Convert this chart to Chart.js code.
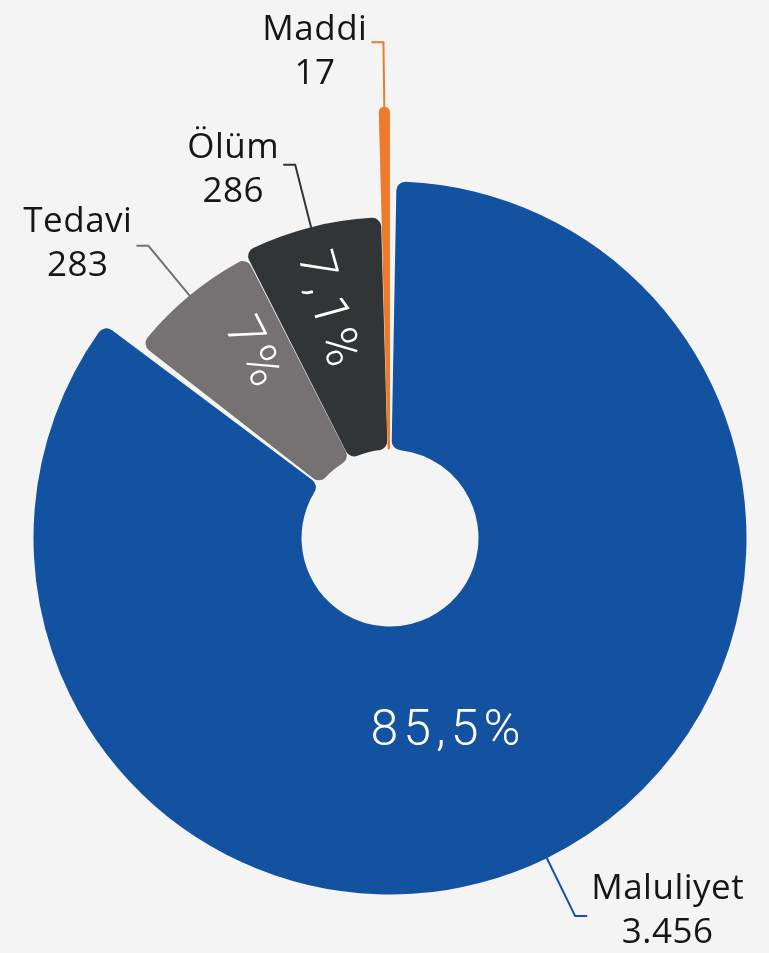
<!DOCTYPE html>
<html>
<head>
<meta charset="utf-8">
<script src="https://cdn.jsdelivr.net/npm/chart.js@4.4.0/dist/chart.umd.min.js"></script>
<style>
  html, body { margin: 0; padding: 0; background: #f4f4f5; }
  #wrap { width: 769px; height: 953px; }
</style>
</head>
<body>
<div id="wrap"><canvas id="chart" width="769" height="953"></canvas></div>
<script>
// Data
const categories = ['Maluliyet', 'Tedavi', 'Ölüm', 'Maddi'];
const counts = [3456, 283, 286, 17];

// Styles
const colors = ['#1352a0', '#767172', '#323537', '#ee7b2b'];
// how far each slice reaches out, relative to the Maluliyet slice
const radiusScale = [1, 0.882, 0.899, 1.211];
// where the percentage sits inside each slice
const pctRadius = [0.572, 0.645, 0.662, 0];
const pctShift = [9.5, 2.6, -1.4, 0];   // degrees off the slice middle
const pctRotate = [false, true, true, false];
const pctTilt = [0, 10, 0, 0];          // extra rotation, degrees
// first text line offset from the callout elbow, px
const calloutDy = [-27, -24, -17, -12];

const total = counts.reduce((a, b) => a + b, 0);

function formatCount(n) {
    return n.toString().replace(/\B(?=(\d{3})+(?!\d))/g, '.');
}

function formatPercent(n) {
    const p = n / total * 100;
    if (p < 1) return '';
    return p.toFixed(1).replace(/\.0$/, '').replace('.', ',') + '%';
}

const deg = Math.PI / 180;

// Stretch each arc to its own outer radius
const variableRadius = {
    id: 'variableRadius',
    afterDatasetsUpdate(chart) {
        const meta = chart.getDatasetMeta(0);
        const base = meta.controller.outerRadius;
        meta.data.forEach((arc, i) => {
            arc.outerRadius = base * radiusScale[i];
        });
    }
};

// Leader lines, names, counts and percentages
const sliceLabels = {
    id: 'sliceLabels',
    afterDatasetsDraw(chart) {
        const ctx = chart.ctx;
        const meta = chart.getDatasetMeta(0);
        const base = meta.controller.outerRadius;

        meta.data.forEach((arc, i) => {
            const { x, y, startAngle, endAngle, outerRadius } = arc;
            const mid = (startAngle + endAngle) / 2;
            const cos = Math.cos(mid), sin = Math.sin(mid);

            // callout
            const sx = x + cos * outerRadius, sy = y + sin * outerRadius;
            const ex = x + cos * (outerRadius + 66), ey = y + sin * (outerRadius + 66);
            const side = cos >= 0 ? 1 : -1;
            const hx = ex + side * 12;

            ctx.save();
            ctx.strokeStyle = colors[i];
            ctx.lineWidth = 2;
            ctx.beginPath();
            ctx.moveTo(sx, sy);
            ctx.lineTo(ex, ey);
            ctx.lineTo(hx, ey);
            ctx.stroke();

            ctx.font = '400 35px "Open Sans"';
            ctx.letterSpacing = '0.5px';
            ctx.fillStyle = '#161616';
            ctx.textAlign = 'center';
            ctx.textBaseline = 'middle';
            const line1 = categories[i];
            const line2 = formatCount(counts[i]);
            const w = Math.max(ctx.measureText(line1).width, ctx.measureText(line2).width);
            const cx = hx + side * (4 + w / 2);
            ctx.fillText(line1, cx, ey + calloutDy[i]);
            ctx.fillText(line2, cx, ey + calloutDy[i] + 44);
            ctx.restore();

            // percentage inside the slice
            const pct = formatPercent(counts[i]);
            if (!pct) return;
            const a = mid + pctShift[i] * deg;
            const r = base * pctRadius[i];
            ctx.save();
            ctx.translate(x + Math.cos(a) * r, y + Math.sin(a) * r);
            if (pctRotate[i]) ctx.rotate(a + Math.PI + pctTilt[i] * deg);
            ctx.font = '300 50px Roboto';
            ctx.letterSpacing = '5px';
            ctx.fillStyle = '#ffffff';
            ctx.textAlign = 'center';
            ctx.textBaseline = 'middle';
            ctx.fillText(pct, 0, 0);
            ctx.restore();
        });
    }
};

const chart = new Chart(document.getElementById('chart'), {
    type: 'doughnut',
    data: {
        labels: categories,
        datasets: [{
            data: counts,
            backgroundColor: colors,
            borderWidth: 0,
            borderRadius: 9,
            spacing: 3,
            clip: false
        }]
    },
    options: {
        responsive: false,
        animation: false,
        events: [],
        radius: 355,
        cutout: '24.5%',
        layout: { padding: { left: 11, right: 0, top: 123, bottom: 0 } },
        plugins: {
            legend: { display: false },
            tooltip: { enabled: false }
        }
    },
    plugins: [variableRadius, sliceLabels]
});
</script>
</body>
</html>
